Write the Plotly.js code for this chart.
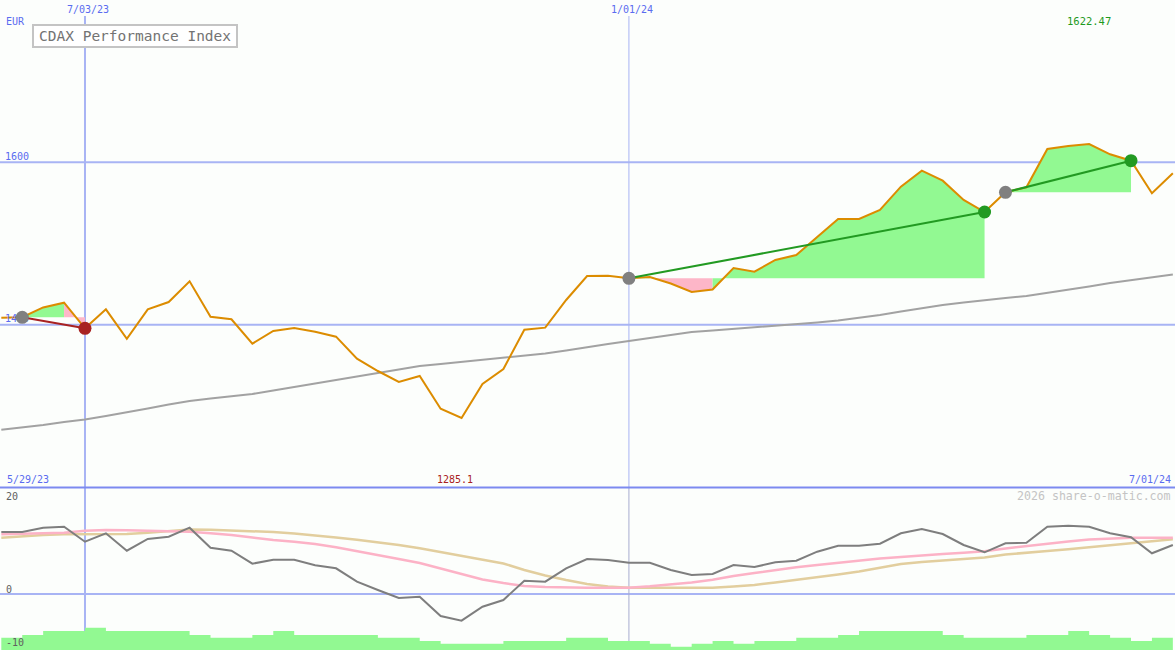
<!DOCTYPE html>
<html>
<head>
<meta charset="utf-8">
<script src="https://cdn.plot.ly/plotly-3.0.1.min.js"></script>
<style>html,body{margin:0;padding:0;background:#FCFEFC;}#chart{width:1175px;height:650px;}</style>
</head>
<body>
<div id="chart"></div>
<script>
// ---- data (weekly) ----
const dates = [
 '2023-06-05','2023-06-12','2023-06-19','2023-06-26','2023-07-03','2023-07-10','2023-07-17','2023-07-24','2023-07-31','2023-08-07',
 '2023-08-14','2023-08-21','2023-08-28','2023-09-04','2023-09-11','2023-09-18','2023-09-25','2023-10-02','2023-10-09','2023-10-16',
 '2023-10-23','2023-10-30','2023-11-06','2023-11-13','2023-11-20','2023-11-27','2023-12-04','2023-12-11','2023-12-18','2023-12-25',
 '2024-01-01','2024-01-08','2024-01-15','2024-01-22','2024-01-29','2024-02-05','2024-02-12','2024-02-19','2024-02-26','2024-03-04',
 '2024-03-11','2024-03-18','2024-03-25','2024-04-01','2024-04-08','2024-04-15','2024-04-22','2024-04-29','2024-05-06','2024-05-13',
 '2024-05-20','2024-05-27','2024-06-03','2024-06-10','2024-06-17','2024-06-24','2024-07-01'
];
const price = [
 1408.6, 1409.1, 1421.2, 1427.1, 1395.5, 1418.9, 1382.7, 1418.9, 1427.9, 1453.4,
 1409.8, 1406.6, 1376.6, 1392.2, 1395.9, 1391.3, 1385.2, 1358.1, 1342.9, 1329.4,
 1336.8, 1296.5, 1285.1, 1326.9, 1345.4, 1393.8, 1396.3, 1430.4, 1460.0, 1460.3,
 1457.1, 1458.7, 1450.7, 1440.3, 1443.3, 1469.8, 1465.3, 1479.7, 1485.8, 1508.4,
 1530.2, 1530.2, 1541.3, 1570.0, 1589.7, 1577.4, 1553.6, 1538.8, 1563.1, 1569.2,
 1616.4, 1620.1, 1622.47, 1609.9, 1602.0, 1561.9, 1586.5
];
const movingAvg = [
 1270.5, 1273.3, 1276.4, 1280.1, 1283.2, 1287.5, 1291.8, 1296.7, 1301.7, 1306.0,
 1309.0, 1311.5, 1314.6, 1318.9, 1323.2, 1327.5, 1331.8, 1336.2, 1340.5, 1344.8,
 1349.1, 1351.6, 1354.0, 1356.5, 1358.9, 1361.4, 1364.5, 1368.2, 1372.5, 1376.2,
 1379.9, 1383.6, 1387.3, 1391.0, 1392.8, 1394.7, 1396.5, 1399.0, 1400.8, 1402.7,
 1405.1, 1408.2, 1411.9, 1416.2, 1420.5, 1424.2, 1427.3, 1430.4, 1432.9, 1435.3,
 1439.0, 1443.3, 1447.0, 1451.3, 1455.0, 1458.7, 1461.8
];
const oscillator = [
 12.4, 12.4, 13.26, 13.46, 10.46, 12.14, 8.66, 11.0, 11.46, 13.26,
 9.26, 8.66, 6.06, 6.86, 6.86, 5.74, 5.14, 2.46, 0.8, -0.8,
 -0.54, -4.4, -5.34, -2.54, -1.2, 2.66, 2.46, 5.14, 7.0, 6.8,
 6.26, 6.26, 4.8, 3.8, 4.0, 5.8, 5.4, 6.34, 6.66, 8.46,
 9.66, 9.66, 10.06, 12.14, 13.0, 12.0, 9.8, 8.34, 10.14, 10.26,
 13.46, 13.66, 13.46, 12.14, 11.34, 8.14, 9.8
];
const signalPink = [
 11.94, 12.0, 12.14, 12.26, 12.66, 12.8, 12.74, 12.66, 12.56, 12.46,
 12.14, 11.8, 11.3, 10.8, 10.46, 10.0, 9.34, 8.6, 7.8, 7.0,
 6.2, 5.1, 4.0, 2.9, 2.2, 1.6, 1.4, 1.3, 1.26, 1.26,
 1.26, 1.54, 1.86, 2.3, 2.84, 3.6, 4.2, 4.8, 5.34, 5.8,
 6.26, 6.7, 7.1, 7.4, 7.74, 8.0, 8.26, 8.54, 9.1, 9.6,
 10.1, 10.5, 10.9, 11.1, 11.26, 11.26, 11.26
];
const signalTan = [
 11.26, 11.6, 11.8, 11.94, 11.94, 11.94, 12.0, 12.26, 12.6, 12.9,
 12.84, 12.74, 12.6, 12.4, 12.1, 11.74, 11.3, 10.86, 10.4, 9.8,
 9.14, 8.4, 7.6, 6.9, 6.1, 4.8, 3.7, 2.8, 2.0, 1.5,
 1.26, 1.26, 1.26, 1.26, 1.26, 1.5, 1.8, 2.3, 2.8, 3.4,
 3.9, 4.5, 5.3, 6.0, 6.4, 6.7, 7.0, 7.3, 7.9, 8.3,
 8.6, 8.94, 9.3, 9.7, 10.14, 10.54, 10.94
];
const volume = [
 12.3, 15, 19, 19, 22.3, 19, 19, 19, 19, 15,
 12.3, 12.3, 15, 19, 15, 15, 15, 15, 12.3, 12.3,
 9, 6.3, 6.3, 6.3, 9, 9, 9, 12.3, 12.3, 9,
 9, 6.3, 3.3, 6.3, 9, 6.3, 9, 9, 12.3, 12.3,
 15, 19, 19, 19, 19, 15, 12.3, 12.3, 12.3, 15,
 15, 19, 15, 12.3, 9, 12.3, 12.3
];
// trades (index into dates)
const buyIdx  = [1, 30, 48];
const sellIdx = [4, 47, 54];
const gridLevels = [1600, 1400];
const gridLabels = ['1600', '1400'];

// ---- styling ----
const W = 1175, H = 650;
const px = x => x / W;
const py = y => 1 - y / H;
const FONT = 'DejaVu Sans Mono';
const BLUE = '#5A6CF0';
const GRID = '#A8B4F4';
const GREENFILL = '#92F992';
const PINKFILL = '#FDB6C8';
const xRange = ['2023-06-04 13:27', '2024-07-01 17:17'];
const t0 = new Date(xRange[0].replace(' ', 'T') + ':00Z').getTime();
const t1 = new Date(xRange[1].replace(' ', 'T') + ':00Z').getTime();
const msPerPx = (t1 - t0) / W;
const labelX = new Date(t0 + 5 * msPerPx).toISOString().replace('T', ' ').slice(0, 19);

const traces = [];

// fills between price and buy level, one polygon per run of same-coloured weeks
buyIdx.forEach((b, t) => {
  const s = sellIdx[t];
  const level = price[b];
  let i = b;
  while (i < s) {
    const up = price[i + 1] >= level;
    let j = i + 1;
    while (j < s && (price[j + 1] >= level) === up) j++;
    const xs = [dates[i]], ys = [level];
    for (let k = i; k <= j; k++) { xs.push(dates[k]); ys.push(price[k]); }
    xs.push(dates[j], dates[i]); ys.push(level, level);
    traces.push({x: xs, y: ys, mode: 'none', fill: 'toself', fillcolor: up ? GREENFILL : PINKFILL,
      xaxis: 'x', yaxis: 'y', hoverinfo: 'skip'});
    i = j;
  }
});

// moving average
traces.push({x: dates, y: movingAvg, mode: 'lines', line: {color: '#A2A2A2', width: 2}, xaxis: 'x', yaxis: 'y'});
// price
traces.push({x: dates, y: price, mode: 'lines', line: {color: '#DC8C00', width: 2}, xaxis: 'x', yaxis: 'y'});
// level labels (drawn under markers)
traces.push({x: [labelX, labelX], y: gridLevels, text: gridLabels, mode: 'text',
  textposition: 'top right', textfont: {family: FONT, size: 10, color: BLUE}, xaxis: 'x', yaxis: 'y'});

// trade lines and markers
buyIdx.forEach((b, t) => {
  const s = sellIdx[t];
  const win = price[s] >= price[b];
  const col = win ? '#229A22' : '#A82222';
  traces.push({x: [dates[b], dates[s]], y: [price[b], price[s]], mode: 'lines',
    line: {color: col, width: 2}, xaxis: 'x', yaxis: 'y'});
  traces.push({x: [dates[b]], y: [price[b]], mode: 'markers',
    marker: {color: '#808080', size: 13}, xaxis: 'x', yaxis: 'y'});
  traces.push({x: [dates[s]], y: [price[s]], mode: 'markers',
    marker: {color: col, size: 13}, xaxis: 'x', yaxis: 'y'});
});

// bottom panel
traces.push({x: dates, y: volume, mode: 'lines', line: {width: 0, shape: 'hv', color: GREENFILL},
  fill: 'tozeroy', fillcolor: GREENFILL, xaxis: 'x', yaxis: 'y3'});
traces.push({x: dates, y: signalTan, mode: 'lines', line: {color: '#E2CE9E', width: 2.5}, xaxis: 'x', yaxis: 'y2'});
traces.push({x: dates, y: signalPink, mode: 'lines', line: {color: '#FCB2C6', width: 2.5}, xaxis: 'x', yaxis: 'y2'});
traces.push({x: dates, y: oscillator, mode: 'lines', line: {color: '#7E7E7E', width: 2}, xaxis: 'x', yaxis: 'y2'});

const shapes = [];
gridLevels.forEach(v => shapes.push({type: 'line', xref: 'paper', yref: 'y', x0: 0, x1: 1, y0: v, y1: v,
  line: {color: GRID, width: 2}, layer: 'below'}));
shapes.push({type: 'line', xref: 'paper', yref: 'y2', x0: 0, x1: 1, y0: 0, y1: 0, line: {color: GRID, width: 2}, layer: 'below'});
shapes.push({type: 'line', xref: 'x', yref: 'paper', x0: '2023-07-03', x1: '2023-07-03', y0: 0, y1: py(16),
  line: {color: GRID, width: 2}, layer: 'below'});
shapes.push({type: 'line', xref: 'x', yref: 'paper', x0: '2024-01-01', x1: '2024-01-01', y0: py(487), y1: py(16),
  line: {color: GRID, width: 1}, layer: 'below'});
shapes.push({type: 'line', xref: 'x', yref: 'paper', x0: '2024-01-01', x1: '2024-01-01', y0: 0, y1: py(487),
  line: {color: '#A8ACD0', width: 1}, layer: 'below'});
shapes.push({type: 'line', xref: 'paper', yref: 'paper', x0: 0, x1: 1, y0: py(487.5), y1: py(487.5),
  line: {color: '#7C8AF0', width: 2}, layer: 'above'});
shapes.push({type: 'rect', xref: 'paper', yref: 'paper', x0: px(33), x1: px(237), y0: py(47), y1: py(25),
  line: {color: '#C4C4C4', width: 2}, fillcolor: '#FFFFFF', layer: 'above'});

function ann(text, x, y, anchor, color, size) {
  return {text: text, xref: 'paper', yref: 'paper', x: px(x), y: py(y), xanchor: anchor, yanchor: 'middle',
    showarrow: false, font: {family: FONT, size: size || 10, color: color || BLUE}};
}
const annotations = [
  ann('7/03/23', 88, 9.5, 'center'),
  ann('1/01/24', 632, 9.5, 'center'),
  ann('EUR', 4, 21.5, 'left'),
  ann('1622.47', 1089, 21, 'center', '#1E9A1E', 10.5),
  ann('5/29/23', 5, 479, 'left'),
  ann('1285.1', 454.5, 479, 'center', '#A82020'),
  ann('7/01/24', 1173, 479, 'right'),
  ann('2026 share-o-matic.com', 1173, 495.5, 'right', '#C4C4C4', 11.6),
  ann('20', 4, 496.5, 'left', '#606060'),
  ann('0', 4, 589, 'left', '#606060'),
  ann('-10', 4, 642, 'left', '#606060'),
  ann('CDAX Performance Index', 135, 36.5, 'center', '#737373', 14.5)
];

const layout = {
  width: W, height: H, margin: {l: 0, r: 0, t: 0, b: 0, pad: 0},
  paper_bgcolor: '#FCFEFC', plot_bgcolor: '#FCFEFC', showlegend: false, hovermode: false,
  xaxis: {type: 'date', range: xRange, visible: false, anchor: 'y2', domain: [0, 1]},
  yaxis: {range: [1200, 1800], domain: [163 / 650, 1], visible: false},
  yaxis2: {range: [-11.2, 21.4], domain: [0, 163 / 650], visible: false},
  yaxis3: {range: [0, 163], overlaying: 'y2', visible: false},
  shapes: shapes, annotations: annotations
};
Plotly.newPlot('chart', traces, layout, {staticPlot: true, displayModeBar: false});
</script>
</body>
</html>
